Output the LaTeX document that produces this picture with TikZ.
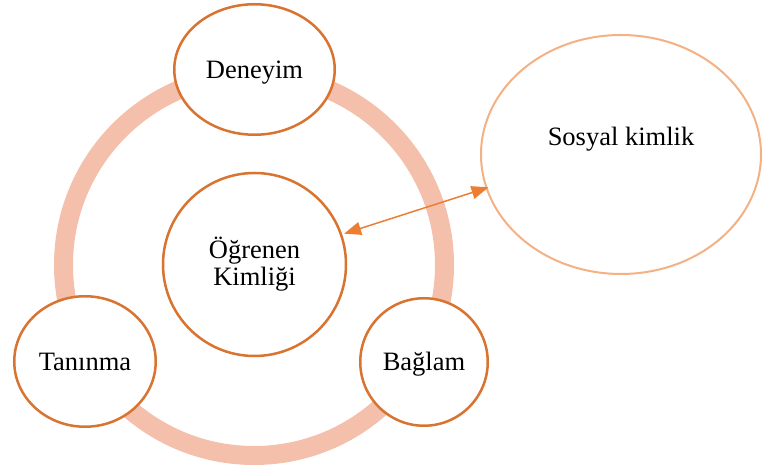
\documentclass[tikz,border=0pt]{standalone}
\usepackage{fontspec}
\setmainfont{Liberation Serif}
\usetikzlibrary{shapes.geometric,arrows.meta,calc}
\definecolor{ringc}{HTML}{F4C0AB}
\definecolor{darko}{HTML}{D87330}
\definecolor{sosc}{HTML}{F4B183}
\definecolor{arrc}{HTML}{ED7D31}
\tikzset{
  bub/.style={ellipse, draw=darko, line width=2.5pt, fill=white, inner sep=0pt,
    font=\fontsize{26.5}{27}\selectfont, text height=18pt, text depth=0pt},
  txt/.style={inner sep=0pt, font=\fontsize{26.5}{27}\selectfont},
  arr/.style={arrc, line width=1.5pt, {Triangle[length=17pt,width=13pt]}-{Triangle[length=17pt,width=13pt]}}
}
\begin{document}
\begin{tikzpicture}[x=1pt,y=1pt]
\useasboundingbox (0,0) rectangle (764,470);
% ring
\draw[ringc, line width=19pt] (254,205) circle[radius=190.5];
% nodes
\node[bub, circle, minimum size=183pt] (ogr) at (254.5,205.5) {};
\node[txt, align=center] (ogrt) at (ogr.center) {Öğrenen\\Kimliği};
\node[bub, minimum width=160.5pt, minimum height=130.5pt] (den) at (254.5,400.5) {Deneyim};
\node[bub, minimum width=141.5pt, minimum height=130.5pt] (tan) at (85,108.5) {Tanınma};
\node[bub, minimum width=127.5pt, minimum height=127.5pt] (bag) at (424,108) {Bağlam};
\node[ellipse, draw=sosc, line width=2pt, fill=white, inner sep=0pt,
  minimum width=280pt, minimum height=239pt] (sos) at (621,315.5) {};
\node[txt, anchor=base] (sost) at (621,324) {Sosyal kimlik};
% arrow
\draw[arr, shorten <=2pt, shorten >=-3pt] (ogr.19) -- (sos.194.4);
\end{tikzpicture}
\end{document}
